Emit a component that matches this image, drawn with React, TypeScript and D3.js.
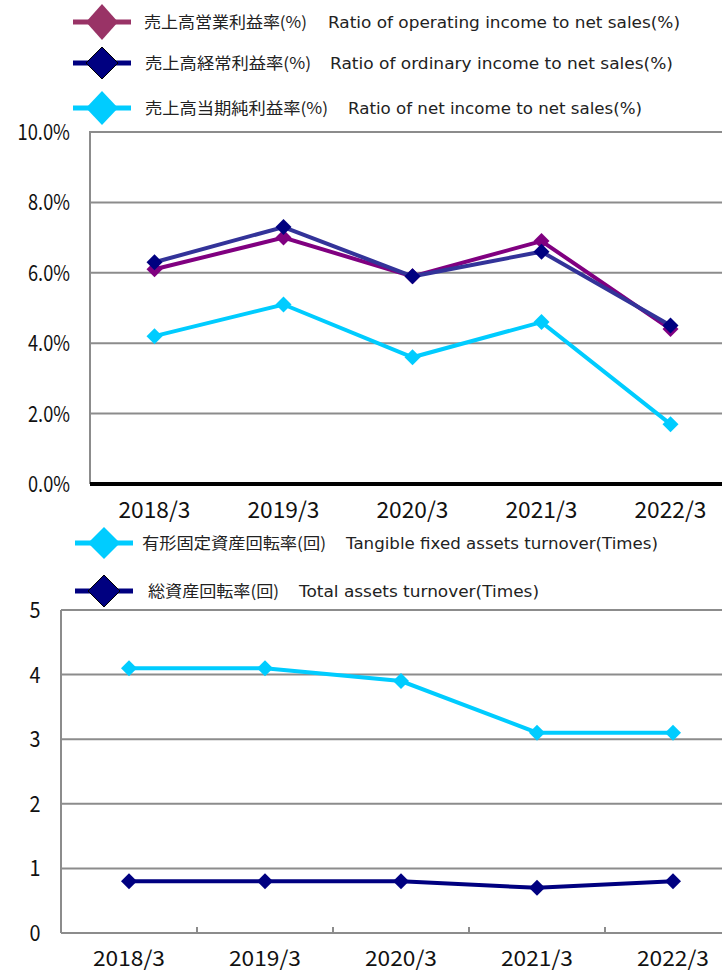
import React from 'react';
import * as d3 from 'd3';

const years = ['2018/3', '2019/3', '2020/3', '2021/3', '2022/3'];

// top chart (%)
const operatingRatio = [6.1, 7.0, 5.9, 6.9, 4.4];
const ordinaryRatio = [6.3, 7.3, 5.9, 6.6, 4.5];
const netRatio = [4.2, 5.1, 3.6, 4.6, 1.7];
const pctTicks = [0, 2, 4, 6, 8, 10];

// bottom chart (times)
const tangibleTurnover = [4.1, 4.1, 3.9, 3.1, 3.1];
const totalTurnover = [0.8, 0.8, 0.8, 0.7, 0.8];
const timesTicks = [0, 1, 2, 3, 4, 5];

const FONT = '"Noto Sans CJK JP", "DejaVu Sans", sans-serif';
const EN_FONT = '"DejaVu Sans", "Noto Sans", sans-serif';
const GRID = '#8c8c8c';

// legend text: japanese part, english part, with measured extents
const topLegend = [
  { jp: '売上高営業利益率(%)', en: 'Ratio of  operating income to net sales(%)', color: '#993366', y: 22, dh: 18, jx: 144, jw: 163, ex: 328, ew: 352, cx: 102, stroke: false },
  { jp: '売上高経常利益率(%)', en: 'Ratio of  ordinary income to net sales(%)', color: '#000080', y: 63, dh: 16, jx: 145, jw: 166, ex: 330, ew: 343, cx: 102, stroke: true },
  { jp: '売上高当期純利益率(%)', en: 'Ratio of net income to net sales(%)', color: '#00CCFF', y: 108, dh: 17, jx: 145, jw: 183, ex: 348, ew: 294, cx: 102, stroke: false },
];

const bottomLegend = [
  { jp: '有形固定資産回転率(回)', en: 'Tangible fixed assets turnover(Times)', color: '#00CCFF', y: 543, dh: 16, jx: 142, jw: 184, ex: 346, ew: 312, cx: 104, stroke: false },
  { jp: '総資産回転率(回)', en: 'Total assets turnover(Times)', color: '#000080', y: 591, dh: 16, jx: 148, jw: 131, ex: 299, ew: 240, cx: 104, stroke: true },
];

function Diamond({ cx, cy, w, h, fill, stroke }: { cx: number; cy: number; w: number; h: number; fill: string; stroke?: string }) {
  return (
    <path d={`M${cx},${cy - h}L${cx + w},${cy}L${cx},${cy + h}L${cx - w},${cy}Z`} fill={fill}
      stroke={stroke || 'none'} strokeWidth={stroke ? 1 : 0} />
  );
}

type Leg = { jp: string; en: string; color: string; y: number; dh: number; jx: number; jw: number; ex: number; ew: number; cx: number; stroke: boolean };

function LegendItem({ l }: { l: Leg }) {
  return (
    <g>
      <line x1={l.cx - 29} x2={l.cx + 29} y1={l.y} y2={l.y} stroke={l.color} strokeWidth={5} />
      <Diamond cx={l.cx} cy={l.y} w={16} h={l.dh} fill={l.color} stroke={l.stroke ? '#000' : undefined} />
      <text x={l.jx} y={l.y} dy="0.36em" fontSize={16} fill="#222" fontFamily={FONT}
        textLength={l.jw} lengthAdjust="spacingAndGlyphs">{l.jp}</text>
      <text x={l.ex} y={l.y} dy="0.36em" fontSize={16} fill="#222" fontFamily={EN_FONT}
        textLength={l.ew} lengthAdjust="spacingAndGlyphs">{l.en}</text>
    </g>
  );
}

// rough width of an axis label in the narrow gothic face of the original
const labelWidth = (s: string) =>
  s.split('').reduce((w, c) => w + (c === '.' ? 5 : c === '%' ? 16 : c === '/' ? 14 : 10.5), 0);

export default function App() {
  // top chart scales
  const xTop = d3.scaleBand<string>().domain(years).range([90, 90 + 5 * 129]);
  const yTop = d3.scaleLinear().domain([0, 10]).range([484, 132]);
  const cxTop = (i: number) => xTop(years[i])! + xTop.bandwidth() / 2;
  const lineTop = (vals: number[]) => d3.line<number>().x((_, i) => cxTop(i)).y((v) => yTop(v))(vals)!;

  // bottom chart scales
  const xBot = d3.scaleBand<string>().domain(years).range([61, 61 + 5 * 136]);
  const yBot = d3.scaleLinear().domain([0, 5]).range([933, 610]);
  const cxBot = (i: number) => xBot(years[i])! + xBot.bandwidth() / 2;
  const lineBot = (vals: number[]) => d3.line<number>().x((_, i) => cxBot(i)).y((v) => yBot(v))(vals)!;

  const topSeries = [
    { vals: netRatio, line: '#00CCFF', marker: '#00CCFF' },
    { vals: operatingRatio, line: '#800080', marker: '#800080' },
    { vals: ordinaryRatio, line: '#333399', marker: '#000080' },
  ];
  const botSeries = [
    { vals: tangibleTurnover, line: '#00CCFF', marker: '#00CCFF' },
    { vals: totalTurnover, line: '#000080', marker: '#000080' },
  ];

  return (
    <svg width={722} height={972} style={{ position: 'absolute', left: 0, top: 0, background: '#fff' }}>
      <rect width={722} height={972} fill="#fff" />

      {/* ---- top chart ---- */}
      {pctTicks.map((t) => {
        const s = t.toFixed(1) + '%';
        return (
          <g key={'pt' + t}>
            {t > 0 && <line x1={90} x2={722} y1={yTop(t)} y2={yTop(t)} stroke={GRID} strokeWidth={2} />}
            <text x={70} y={yTop(t)} dy="0.36em" textAnchor="end" fontSize={22} fontFamily={FONT} fill="#111"
              textLength={labelWidth(s)} lengthAdjust="spacingAndGlyphs">{s}</text>
          </g>
        );
      })}
      <line x1={90} x2={90} y1={131} y2={484} stroke={GRID} strokeWidth={2} />
      <line x1={90} x2={722} y1={yTop(0)} y2={yTop(0)} stroke="#000" strokeWidth={4} />
      {years.map((y, i) => (
        <text key={'xt' + y} x={cxTop(i)} y={510} dy="0.36em" textAnchor="middle"
          fontSize={22} fontFamily={FONT} fill="#111" textLength={72} lengthAdjust="spacingAndGlyphs">{y}</text>
      ))}
      {topSeries.map((s, k) => (
        <g key={'ts' + k}>
          <path d={lineTop(s.vals)} fill="none" stroke={s.line} strokeWidth={4} />
          {s.vals.map((v, i) => (
            <Diamond key={i} cx={cxTop(i)} cy={yTop(v)} w={8} h={8} fill={s.marker} />
          ))}
        </g>
      ))}
      {topLegend.map((l) => <LegendItem key={l.jp} l={l} />)}

      {/* ---- bottom chart ---- */}
      {timesTicks.map((t) => (
        <g key={'bt' + t}>
          <line x1={61} x2={722} y1={yBot(t)} y2={yBot(t)} stroke={GRID} strokeWidth={2} />
          <text x={35} y={yBot(t)} dy="0.36em" textAnchor="middle" fontSize={22} fontFamily={FONT} fill="#111"
            textLength={11} lengthAdjust="spacingAndGlyphs">{t}</text>
        </g>
      ))}
      <line x1={61} x2={61} y1={610} y2={933} stroke={GRID} strokeWidth={2} />
      {years.slice(1).map((y) => (
        <line key={'tk' + y} x1={xBot(y)!} x2={xBot(y)!} y1={933} y2={927} stroke={GRID} strokeWidth={2} />
      ))}
      {years.map((y, i) => (
        <text key={'bx' + y} x={cxBot(i)} y={958} dy="0.36em" textAnchor="middle"
          fontSize={21} fontFamily={FONT} fill="#111" textLength={72} lengthAdjust="spacingAndGlyphs">{y}</text>
      ))}
      {botSeries.map((s, k) => (
        <g key={'bs' + k}>
          <path d={lineBot(s.vals)} fill="none" stroke={s.line} strokeWidth={4} />
          {s.vals.map((v, i) => (
            <Diamond key={i} cx={cxBot(i)} cy={yBot(v)} w={8} h={8} fill={s.marker} />
          ))}
        </g>
      ))}
      {bottomLegend.map((l) => <LegendItem key={l.jp} l={l} />)}
    </svg>
  );
}
